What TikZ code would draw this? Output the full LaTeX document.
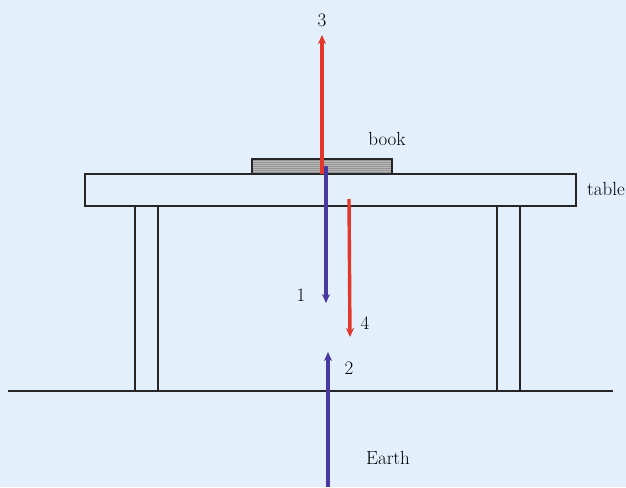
\documentclass[tikz,border=0pt]{standalone}
\usepackage{tikz}
\usetikzlibrary{arrows.meta,positioning,calc}

\definecolor{bgblue}{RGB}{227,240,251}
\definecolor{forcered}{RGB}{226,55,42}
\definecolor{forceblue}{RGB}{72,56,160}

\tikzset{
  outline/.style={draw=black!85, line width=1.6pt},
  redforce/.style={forcered, line width=3.4pt, -{Stealth[length=9pt,width=8pt]}},
  blueforce/.style={forceblue, line width=3.4pt, -{Stealth[length=9pt,width=8pt]}},
  lbl/.style={font=\fontsize{19}{21}\selectfont, inner sep=0pt}
}

\begin{document}
\begin{tikzpicture}[x=1pt, y=-1pt]
    \useasboundingbox[fill=bgblue] (0,0) rectangle (626,487);

    % Ground
    \draw[outline] (8,391) -- (613,391);

    % Table top and legs
    \draw[outline] (85,174) rectangle (576,206);
    \draw[outline] (135,206) rectangle (158,391);
    \draw[outline] (497,206) rectangle (520,391);

    % Book
    \fill[gray!85] (252,159) rectangle (392,174);
    \foreach \yy in {161,163,...,173}
        \draw[gray!55, line width=0.6pt] (253,\yy) -- (391,\yy);
    \draw[outline] (252,159) rectangle (392,174);

    % Labels
    \node[lbl] (book)  at (387,139) {book};
    \node[lbl] (table) at (606,189) {table};
    \node[lbl] (earth) at (388,458) {Earth};
    \node[lbl] (n3) at (322,20)  {3};
    \node[lbl] (n1) at (301,295) {1};
    \node[lbl] (n4) at (365,323) {4};
    \node[lbl] (n2) at (349,368) {2};

    % Force end points
    \coordinate (f3a) at (322,174);
    \coordinate (f3b) at (322,35);
    \coordinate (f1a) at (326,166);
    \coordinate (f1b) at (326,303);
    \coordinate (f4a) at (349,199);
    \coordinate (f4b) at (350,337);
    \coordinate (f2a) at (328,487);
    \coordinate (f2b) at (328,352);

    % Forces
    \draw[redforce]  (f3a) -- (f3b);
    \draw[blueforce] (f1a) -- (f1b);
    \draw[redforce]  (f4a) -- (f4b);
    \draw[blueforce] (f2a) -- (f2b);
\end{tikzpicture}
\end{document}
